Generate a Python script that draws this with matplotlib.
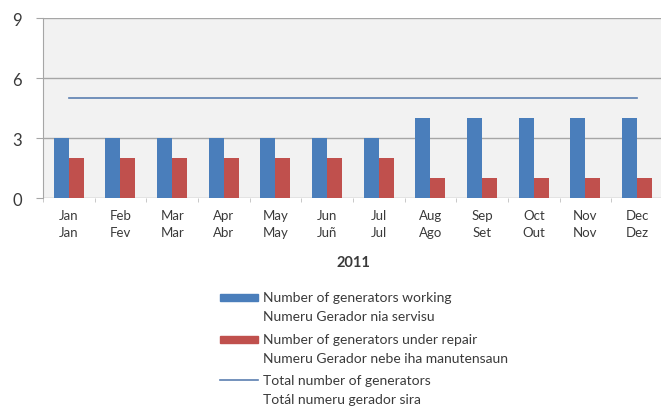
import matplotlib
matplotlib.use('Agg')
import matplotlib.pyplot as plt
from matplotlib.patches import Rectangle
from matplotlib.lines import Line2D
import numpy as np

months = ['Jan\nJan', 'Feb\nFev', 'Mar\nMar', 'Apr\nAbr', 'May\nMay', 'Jun\nJuñ',
          'Jul\nJul', 'Aug\nAgo', 'Sep\nSet', 'Oct\nOut', 'Nov\nNov', 'Dec\nDez']
working = [3, 3, 3, 3, 3, 3, 3, 4, 4, 4, 4, 4]
repair = [2, 2, 2, 2, 2, 2, 2, 1, 1, 1, 1, 1]
total = [5] * 12
yticks = [0, 3, 6, 9]
legend_labels = [('Number of generators working', 'Numeru Gerador nia servisu'),
                 ('Number of generators under repair', 'Numeru Gerador nebe iha manutensaun'),
                 ('Total number of generators', 'Totál numeru gerador sira')]

plt.rcParams['font.family'] = ['Lato', 'DejaVu Sans']
txt = '#3a3a3a'
blue = '#4a7ebb'
red = '#c0504d'
linec = '#5b7fb0'

fig = plt.figure(figsize=(6.61, 4.14), dpi=100)
ax = fig.add_axes([0.065, 0.519, 0.938, 0.435])
ax.set_facecolor('#f2f2f2')

x = np.arange(len(months))
w = 0.29
ax.bar(x - w/2, working, w, color=blue, zorder=3)
ax.bar(x + w/2, repair, w, color=red, zorder=3)
ax.plot(x, total, color=linec, lw=1.2, zorder=3)

ax.set_xlim(-0.5, 11.5)
ax.set_ylim(0, 9)
ax.set_yticks(yticks)
ax.yaxis.grid(True, color='#a6a6a6', lw=1)
ax.set_axisbelow(True)
for s in ['top', 'right', 'bottom']:
    ax.spines[s].set_visible(False)
ax.spines['left'].set_color('#a6a6a6')
ax.tick_params(axis='y', length=5, color='#a6a6a6', labelsize=12, labelcolor=txt, pad=10)
ax.set_xticks(x)
ax.set_xticklabels(months, fontsize=9.5, color=txt, linespacing=1.5)
ax.tick_params(axis='x', length=0, pad=8)
ax.set_xticks(np.arange(-0.5, 12, 1), minor=True)
ax.tick_params(axis='x', which='minor', length=3, color='#bfbfbf')
ax.set_xlabel('2011', fontsize=10.5, fontweight='bold', color=txt, labelpad=12)

# legend drawn by hand so the key sits next to the first line of each label
W, H = 661, 414
rows = [298, 340, 381]
for (l1, l2), y0, kind in zip(legend_labels, rows, ['bar', 'bar', 'line']):
    if kind == 'bar':
        c = blue if y0 == rows[0] else red
        fig.patches.append(Rectangle((220 / W, 1 - (y0 + 3.5) / H), 38 / W, 7 / H,
                                     transform=fig.transFigure, color=c))
    else:
        fig.lines.append(Line2D([220 / W, 258 / W], [1 - y0 / H] * 2,
                                transform=fig.transFigure, color=linec, lw=1.2))
    fig.text(263 / W, 1 - y0 / H, l1, fontsize=10, color=txt, va='center')
    fig.text(263 / W, 1 - (y0 + 19) / H, l2, fontsize=10, color=txt, va='center')

plt.savefig('out.png', dpi=100)
